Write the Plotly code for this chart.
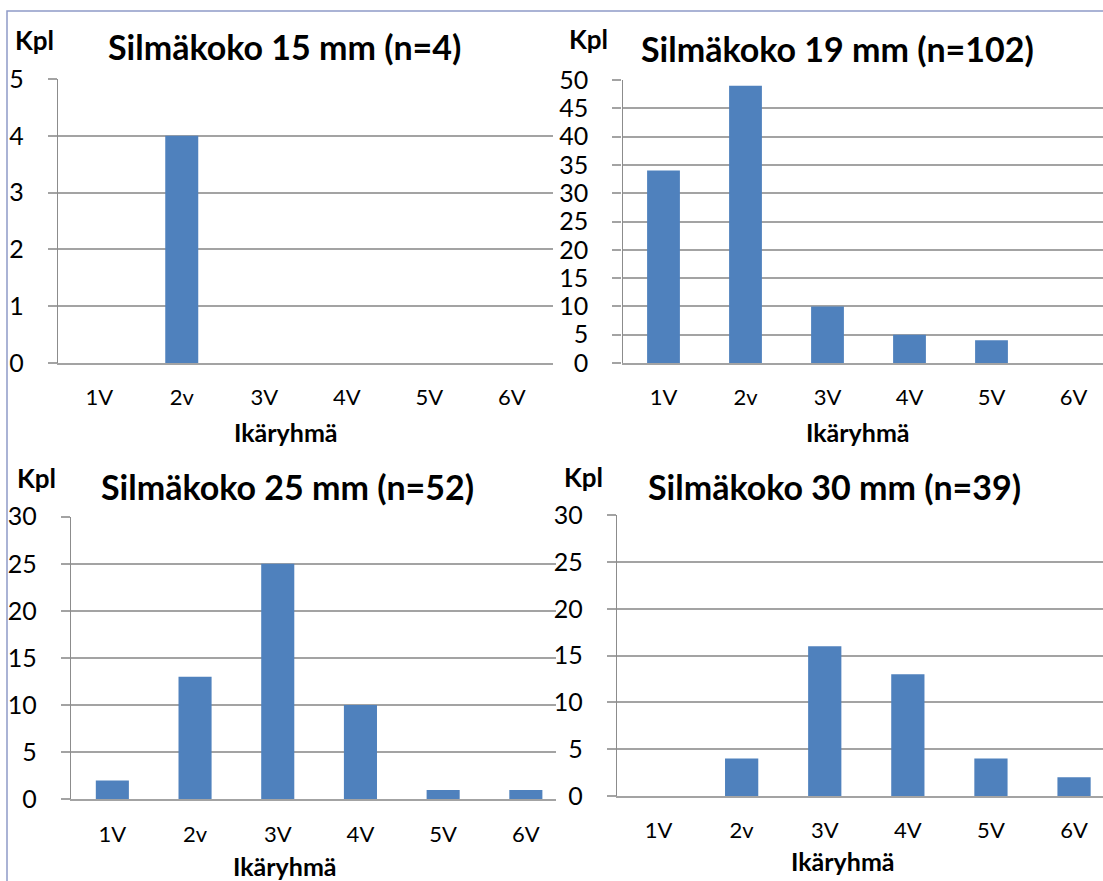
import plotly.graph_objects as go

categories = ["1V", "2v", "3V", "4V", "5V", "6V"]
titles = ["Silmäkoko 15 mm (n=4)", "Silmäkoko 19 mm (n=102)",
          "Silmäkoko 25 mm (n=52)", "Silmäkoko 30 mm (n=39)"]
counts_15 = [0, 4, 0, 0, 0, 0]
counts_19 = [34, 49, 10, 5, 4, 0]
counts_25 = [2, 13, 25, 10, 1, 1]
counts_30 = [0, 4, 16, 13, 4, 2]
y_max = [5, 50, 30, 30]
y_step = [1, 5, 5, 5]
series = [counts_15, counts_19, counts_25, counts_30]

W, H = 1103, 881
FONT = "Lato"
BAR = "#4F81BD"
GRID = "#A3A3A3"

# pixel layout of each panel: plot left, plot right, top (max value), bottom (zero), category width
panels = [
    dict(x0=58, x1=552.7, top=79, bot=363, cw=82.5),
    dict(x0=622.5, x1=1103, top=80, bot=363, cw=82.0),
    dict(x0=71, x1=556, top=516.7, bot=799.3, cw=82.7),
    dict(x0=617, x1=1103, top=515.3, bot=796, cw=83.1),
]
title_pos = [(284, 47), (837, 48), (287, 487), (834, 487)]
kpl_pos = [(34.5, 40), (588, 39), (36, 478), (583.5, 477)]
xlab_pos = [(286, 432), (858, 432), (285, 866), (843, 861)]

fig = go.Figure()
layout = dict(width=W, height=H, margin=dict(l=0, r=0, t=0, b=0, autoexpand=False),
              paper_bgcolor="white", plot_bgcolor="white", showlegend=False,
              bargap=0.6, font=dict(family=FONT, color="black"))
annotations = []
for i, p in enumerate(panels):
    n = "" if i == 0 else str(i + 1)
    fig.add_trace(go.Bar(x=categories, y=series[i], marker=dict(color=BAR, line=dict(width=0)),
                         xaxis="x" + n, yaxis="y" + n, hoverinfo="x+y"))
    layout["xaxis" + n] = dict(
        domain=[p["x0"] / W, p["x1"] / W], anchor="y" + n,
        type="category", range=[-0.5, -0.5 + (p["x1"] - p["x0"]) / p["cw"]],
        showgrid=False, showline=True, linecolor=GRID, linewidth=2,
        ticks="", tickfont=dict(size=22, family=FONT), ticklabelstandoff=14,
        automargin=False, fixedrange=True)
    layout["yaxis" + n] = dict(
        domain=[1 - p["bot"] / H, 1 - p["top"] / H], anchor="x" + n,
        range=[0, y_max[i]], dtick=y_step[i], tick0=0,
        showgrid=True, gridcolor=GRID, gridwidth=1.5,
        showline=True, linecolor="#8C8C8C", linewidth=1.3,
        ticks="outside", ticklen=9, tickcolor=GRID, tickwidth=1.5,
        tickfont=dict(size=25, family=FONT), ticklabelstandoff=19,
        zeroline=False, automargin=False, fixedrange=True)
    annotations.append(dict(text="<b>%s</b>" % titles[i], x=title_pos[i][0] / W, y=1 - title_pos[i][1] / H,
                            xref="paper", yref="paper", xanchor="center", yanchor="middle",
                            showarrow=False, font=dict(size=34, family=FONT)))
    annotations.append(dict(text="<b>Kpl</b>", x=kpl_pos[i][0] / W, y=1 - kpl_pos[i][1] / H,
                            xref="paper", yref="paper", xanchor="center", yanchor="middle",
                            showarrow=False, font=dict(size=26, family=FONT)))
    annotations.append(dict(text="<b>Ikäryhmä</b>", x=xlab_pos[i][0] / W, y=1 - xlab_pos[i][1] / H,
                            xref="paper", yref="paper", xanchor="center", yanchor="middle",
                            showarrow=False, font=dict(size=25, family=FONT)))

layout["annotations"] = annotations
layout["shapes"] = [dict(type="rect", xref="paper", yref="paper",
                         x0=7 / W, x1=1.05, y0=-0.05, y1=1 - 11 / H,
                         line=dict(color="#8E9BC8", width=1.5), fillcolor="rgba(0,0,0,0)", layer="above")]
fig.update_layout(**layout)
fig.write_html("out.html", config={"displayModeBar": False},
               post_script="document.body.style.margin='0';document.body.style.overflow='hidden';")
